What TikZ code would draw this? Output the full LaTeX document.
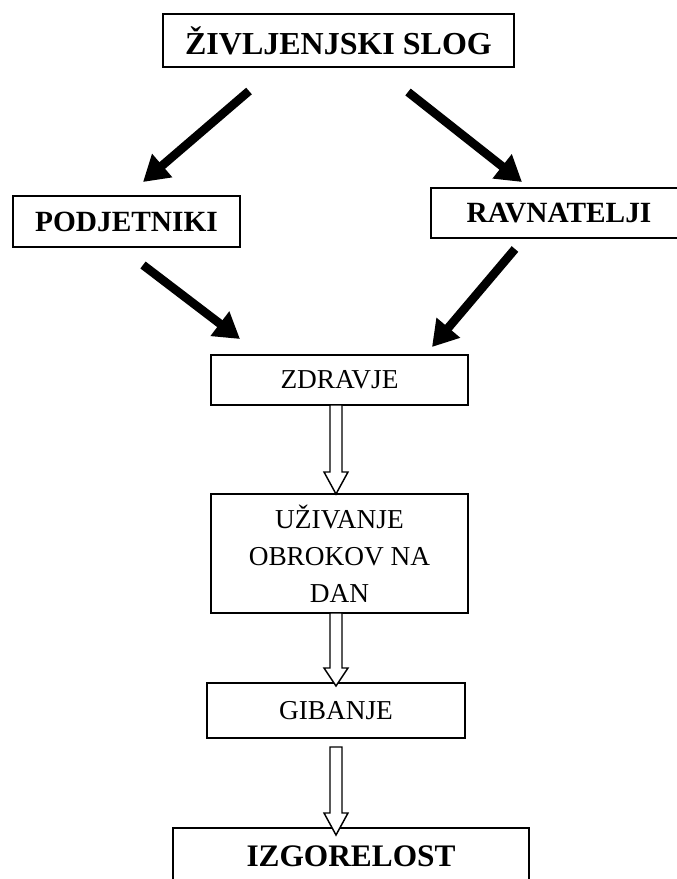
\documentclass[tikz,border=0pt]{standalone}
\usepackage{fontspec}
\setmainfont{Liberation Serif}
\usetikzlibrary{arrows.meta,calc}
\begin{document}
\begin{tikzpicture}[x=0.75pt,y=-0.75pt,
  box/.style={draw=black, line width=1.1pt, fill=white, inner sep=0pt, align=center},
  bigbold/.style={font=\fontsize{24}{28}\selectfont\bfseries},
  midbold/.style={font=\fontsize{22}{26}\selectfont\bfseries},
  plain/.style={font=\fontsize{20.5}{27.75}\selectfont},
  blackarrow/.style={line width=6.5pt, -{Triangle[length=19pt, width=22pt]}},
  openarrow/.style={draw=black, line width=1.1pt, fill=white, line join=miter}
]
\path[use as bounding box] (0,0) rectangle (677,879);
\clip (0,0) rectangle (677,879);

% boxes
\node[box, bigbold, minimum width=263.25pt, minimum height=39.75pt] (top) at (338.5,40.5) {ŽIVLJENJSKI SLOG};
\node[box, midbold, minimum width=170.25pt, minimum height=38.25pt] (podj) at (126.5,221.5) {PODJETNIKI};
\node[box, midbold, minimum width=192pt, minimum height=37.5pt] (ravn) at (559,213) {RAVNATELJI};
\node[box, plain, minimum width=192.75pt, minimum height=37.5pt] (zdr) at (339.5,380) {ZDRAVJE};
\node[box, plain, minimum width=192.75pt, minimum height=89.25pt] (uzi) at (339.5,553.5) {UŽIVANJE\\OBROKOV NA\\DAN};
\node[box, plain, minimum width=193.5pt, minimum height=41.25pt] (gib) at (336,710.5) {GIBANJE};
\node[box, font=\fontsize{23.5}{28}\selectfont\bfseries, minimum width=267pt, minimum height=42.75pt] (izg) at (351,856.5) {IZGORELOST};

% black arrows (free ends)
\coordinate (a1s) at (249,91);  \coordinate (a1e) at (143,182);
\coordinate (a2s) at (408,92);  \coordinate (a2e) at (522,182);
\coordinate (a3s) at (143,265); \coordinate (a3e) at (240,339);
\coordinate (a4s) at (515,249); \coordinate (a4e) at (432,347);
\draw[blackarrow] (a1s) -- (a1e);
\draw[blackarrow] (a2s) -- (a2e);
\draw[blackarrow] (a3s) -- (a3e);
\draw[blackarrow] (a4s) -- (a4e);

% open block arrows
\coordinate (o1s) at (336,405); \coordinate (o1h) at (336,472); \coordinate (o1e) at (336,494);
\coordinate (o2s) at (336,613); \coordinate (o2h) at (336,668); \coordinate (o2e) at (336,686);
\coordinate (o3s) at (336,747); \coordinate (o3h) at (336,813); \coordinate (o3e) at (336,835);
\foreach \s/\h/\e in {o1s/o1h/o1e, o2s/o2h/o2e, o3s/o3h/o3e}{
  \draw[openarrow] ($(\s)+(-6,0)$) -- ($(\h)+(-6,0)$) -- ($(\h)+(-12,0)$) -- (\e)
     -- ($(\h)+(12,0)$) -- ($(\h)+(6,0)$) -- ($(\s)+(6,0)$) -- cycle;
}
\end{tikzpicture}
\end{document}
